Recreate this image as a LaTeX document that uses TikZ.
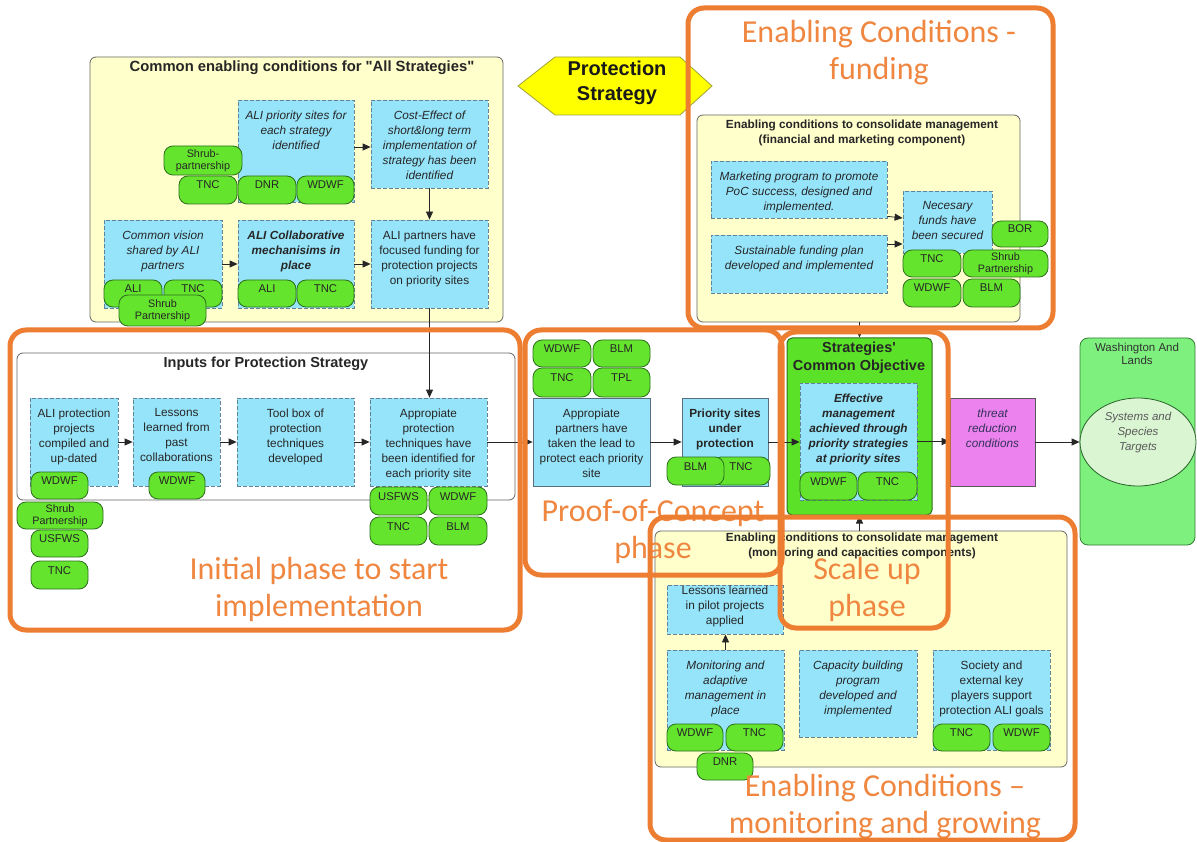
\documentclass[tikz,border=0pt]{standalone}
\usepackage{fontspec}
\setmainfont{Liberation Sans}[Ligatures=TeXOff]
\newfontfamily\calib{Carlito}
\usetikzlibrary{arrows.meta,shapes.geometric,calc}
\definecolor{orng}{RGB}{237,125,49}
\definecolor{orngtext}{RGB}{239,135,65}
\definecolor{yel}{RGB}{255,255,204}
\definecolor{boxblue}{RGB}{150,228,250}
\definecolor{dashcol}{RGB}{100,130,150}
\definecolor{solidcol}{RGB}{90,110,130}
\definecolor{pillgreen}{RGB}{100,228,45}
\definecolor{pillborder}{RGB}{45,110,30}
\definecolor{scogreen}{RGB}{90,225,40}
\definecolor{washgreen}{RGB}{125,240,125}
\definecolor{tgtfill}{RGB}{218,245,210}
\definecolor{tgtborder}{RGB}{40,100,40}
\definecolor{violetbox}{RGB}{236,130,238}
\definecolor{threattext}{RGB}{50,50,90}
\definecolor{hexyel}{RGB}{255,255,0}
\definecolor{hexborder}{RGB}{160,160,60}
\newcommand\bx[7][]{\node[#1,minimum width={(#5)-(#3)},minimum height={(#6)-(#4)}] (#2) at ({((#3)+(#5))/2},{((#4)+(#6))/2}) {#7};}
\newcommand\tb[8][]{\bx[#1]{#2}{#3}{#4}{#5}{#6}{}\node[btxt,#7] (#2t) at ([yshift=-11pt]#2.north) {#8};}
\begin{document}
\begin{tikzpicture}[x=1pt,y=-1pt,
  arr/.style={draw=black!85,line width=0.8pt,-{Triangle[length=8pt,width=7pt]}},
  fit/.style={font=\fontsize{11.8}{15}\selectfont\itshape},
  fup/.style={font=\fontsize{11.8}{15}\selectfont},
  fbi/.style={font=\fontsize{11.8}{15}\selectfont\bfseries\itshape},
  fbu/.style={font=\fontsize{11.8}{15}\selectfont\bfseries},
  btxt/.style={anchor=north,inner sep=0pt,align=center,text=black!85},
  subtitle/.style={font=\fontsize{11.8}{15}\selectfont\bfseries,align=center,text=black!85},
  ybox/.style={draw=gray!80!black,fill=yel,rounded corners=6pt,line width=0.8pt,inner sep=0pt},
  wbox/.style={draw=gray!80!black,fill=white,rounded corners=6pt,line width=0.8pt,inner sep=0pt},
  scobox/.style={draw=pillborder,fill=scogreen,rounded corners=5pt,line width=1pt,inner sep=0pt},
  washbox/.style={draw=gray!60!green!70!black,fill=washgreen,rounded corners=8pt,line width=0.8pt,inner sep=0pt},
  violetb/.style={draw=gray!70!black,fill=violetbox,inner sep=0pt,line width=0.6pt},
  bluebox/.style={draw=dashcol,dash pattern=on 4pt off 2pt,fill=boxblue,inner sep=0pt,line width=0.8pt},
  bluesolid/.style={draw=solidcol,fill=boxblue,inner sep=0pt,line width=0.8pt},
  pill/.style={draw=pillborder,fill=pillgreen,rounded corners=9pt,inner sep=0pt,line width=0.8pt,font=\fontsize{11.3}{13}\selectfont,text height=8pt,text depth=10pt,text=black!85},
  pilltwo/.style={draw=pillborder,fill=pillgreen,rounded corners=9pt,inner sep=0pt,line width=0.8pt,align=center,font=\fontsize{10.8}{12.5}\selectfont,text=black!85},
  oframe/.style={draw=orng,line width=5pt,rounded corners=16pt,inner sep=0pt},
  ftitle/.style={text=orngtext,align=center,font=\calib\fontsize{32}{37}\selectfont}
]
\useasboundingbox (0,0) rectangle (1197,842);
\fill[white] (0,0) rectangle (1197,842);

% ---------- containers ----------
\bx[ybox]{Y1}{90}{57}{503}{322}{}
\node[font=\fontsize{14.8}{15}\selectfont\bfseries,text=black!85] (Y1t) at (302,68) {Common enabling conditions for "All Strategies"};
\bx[ybox]{Y2}{697}{115}{1020}{322}{}
\node[subtitle] (Y2t) at (862,133) {Enabling conditions to consolidate management\\(financial and marketing component)};
\bx[wbox]{Y3}{17}{353}{515}{500}{}
\node[font=\fontsize{14.5}{15}\selectfont\bfseries,text=black!85] (Y3t) at (266,364) {Inputs for Protection Strategy};
\bx[ybox]{Y4}{655}{531}{1067}{767}{}
\node[subtitle] (Y4t) at (862,546) {Enabling conditions to consolidate management\\(monitoring and capacities components)};
\bx[scobox]{sco}{787}{338}{932}{515}{}
\node[font=\fontsize{14.5}{18}\selectfont\bfseries,align=center,text=black!85] (scot) at (859,358) {Strategies'\\Common Objective};
\bx[washbox]{wash}{1080}{338}{1195}{545}{}
\node[font=\fontsize{11.5}{13}\selectfont,align=center,text=black!80] (washt) at (1137,354) {Washington And\\Lands};
\node[ellipse,draw=tgtborder,fill=tgtfill,line width=0.8pt,minimum width=116pt,minimum height=88pt,inner sep=0pt] (tgt) at (1138,442) {};
\node[font=\fontsize{11.5}{15}\selectfont\itshape,align=center,text=black!65] (tgtt) at ([yshift=9pt]tgt.center) {Systems and\\Species\\Targets};

% Protection Strategy arrow
\path[draw=hexborder,fill=hexyel,line width=0.8pt] (518,86) -- (555,57) -- (680,57) -- (712,86) -- (680,115) -- (555,115) -- cycle;
\node[font=\fontsize{20}{25}\selectfont\bfseries,align=center,text=black!90] (hext) at (617,83) {Protection\\Strategy};

% ---------- common enabling conditions ----------
\tb[bluebox]{balisites}{238}{100}{354}{202}{fit}{ALI priority sites for\\each strategy\\identified}
\tb[bluebox]{bcost}{371}{100}{488}{188}{fit}{Cost-Effect of\\short\&long term\\implementation of\\strategy has been\\identified}
\tb[bluebox]{bvision}{104}{220}{222}{308}{fit}{Common vision\\shared by ALI\\partners}
\tb[bluebox]{bcollab}{238}{220}{354}{308}{fbi}{ALI Collaborative\\mechanisims in\\place}
\tb[bluebox]{bfund}{371}{220}{488}{308}{fup}{ALI partners have\\focused funding for\\protection projects\\on priority sites}
\bx[pilltwo]{p1}{164}{146}{242}{175}{Shrub-\\partnership}
\bx[pill]{p2}{179}{176}{237}{204}{TNC}
\bx[pill]{p3}{238}{176}{296}{204}{DNR}
\bx[pill]{p4}{297}{176}{354}{204}{WDWF}
\bx[pill]{p5}{104}{280}{162}{307}{ALI}
\bx[pill]{p6}{164}{280}{222}{307}{TNC}
\bx[pilltwo]{p7}{119}{295}{206}{326}{Shrub\\Partnership}
\bx[pill]{p8}{238}{280}{296}{307}{ALI}
\bx[pill]{p9}{297}{280}{354}{307}{TNC}

% ---------- funding ----------
\tb[bluebox]{bmark}{711}{161}{887}{218}{fit}{Marketing program to promote\\PoC success, designed and\\implemented.}
\tb[bluebox]{bsust}{711}{235}{887}{293}{fit}{Sustainable funding plan\\developed and implemented}
\tb[bluebox]{bfunds}{903}{191}{992}{253}{fit}{Necesary\\funds have\\been secured}
\bx[pill]{p10}{992}{221}{1048}{247}{BOR}
\bx[pill]{p11}{903}{250}{961}{277}{TNC}
\bx[pilltwo]{p12}{963}{250}{1048}{277}{Shrub\\Partnership}
\bx[pill]{p13}{903}{279}{961}{307}{WDWF}
\bx[pill]{p14}{963}{279}{1020}{307}{BLM}

% ---------- inputs ----------
\tb[bluebox]{i1}{30}{398}{118}{486}{fup}{ALI protection\\projects\\compiled and\\up-dated}
\tb[bluebox]{i2}{133}{398}{220}{486}{fup}{Lessons\\learned from\\past\\collaborations}
\tb[bluebox]{i3}{237}{398}{354}{486}{fup}{Tool box of\\protection\\techniques\\developed}
\tb[bluebox]{i4}{370}{398}{487}{486}{fup}{Appropiate\\protection\\techniques have\\been identified for\\each priority site}
\bx[pill]{p15}{31}{472}{88}{499}{WDWF}
\bx[pilltwo]{p16}{17}{502}{103}{529}{Shrub\\Partnership}
\bx[pill]{p17}{31}{530}{88}{557}{USFWS}
\bx[pill]{p18}{31}{561}{88}{589}{TNC}
\bx[pill]{p19}{149}{472}{205}{499}{WDWF}
\bx[pill]{p20}{370}{487}{427}{515}{USFWS}
\bx[pill]{p21}{429}{487}{487}{515}{WDWF}
\bx[pill]{p22}{370}{517}{427}{545}{TNC}
\bx[pill]{p23}{429}{517}{487}{545}{BLM}

% ---------- proof of concept ----------
\bx[pill]{p24}{533}{340}{591}{367}{WDWF}
\bx[pill]{p25}{593}{340}{650}{367}{BLM}
\bx[pill]{p26}{533}{368}{591}{397}{TNC}
\bx[pill]{p27}{593}{368}{650}{397}{TPL}
\tb[bluesolid]{poc1}{533}{398}{650}{486}{fup}{Appropiate\\partners have\\taken the lead to\\protect each priority\\site}
\tb[bluesolid]{poc2}{682}{398}{768}{486}{fbu}{Priority sites\\under\\protection}
\bx[pill]{p28}{712}{457}{770}{485}{TNC}
\bx[pill]{p29}{667}{457}{724}{485}{BLM}

% ---------- common objective ----------
\tb[bluebox]{eff}{800}{383}{917}{500}{fbi}{Effective\\management\\achieved through\\priority strategies\\at priority sites}
\bx[pill]{p30}{800}{472}{857}{500}{WDWF}
\bx[pill]{p31}{858}{472}{917}{500}{TNC}
\tb[violetb]{thr}{950}{398}{1035}{486}{fit,text=threattext}{threat\\reduction\\conditions}

% ---------- monitoring ----------
\bx[bluebox]{l1}{667}{585}{783}{634}{}
\node[btxt,fup,anchor=center] (l1t) at ([yshift=3pt]l1.center) {Lessons learned\\in pilot projects\\applied};
\tb[bluebox]{m1}{667}{650}{784}{750}{fit}{Monitoring and\\adaptive\\management in\\place}
\tb[bluebox]{c1}{799}{650}{917}{737}{fit}{Capacity building\\program\\developed and\\implemented}
\tb[bluebox]{s1}{933}{650}{1050}{750}{fup}{Society and\\external key\\players support\\protection ALI goals}
\bx[pill]{p32}{667}{724}{723}{751}{WDWF}
\bx[pill]{p33}{726}{724}{783}{751}{TNC}
\bx[pill]{p34}{697}{753}{753}{780}{DNR}
\bx[pill]{p35}{933}{724}{990}{751}{TNC}
\bx[pill]{p36}{993}{724}{1050}{751}{WDWF}

% ---------- connectors ----------
\coordinate (a1) at ([yshift=4pt]balisites.east);
\draw[arr] (a1) -- (a1 -| bcost.west);
\draw[arr] (bcost.south) -- (bcost.south |- bfund.north);
\draw[arr] (bvision.east) -- (bcollab.west);
\draw[arr] (bcollab.east) -- (bfund.west);
\draw[arr] (bfund.south) -- (bfund.south |- i4.north);
\draw[arr] (i1.east) -- (i2.west);
\draw[arr] (i2.east) -- (i3.west);
\draw[arr] (i3.east) -- (i4.west);
\draw[arr] (i4.east) -- (poc1.west);
\draw[arr] (poc1.east) -- (poc2.west);
\draw[arr] (poc2.east) -- (poc2.east -| eff.west);
\draw[arr] (eff.east) -- (eff.east -| thr.west);
\draw[arr] (thr.east) -- (tgt.west);
\draw[arr] ([yshift=2pt]bmark.south east) -- ([yshift=4pt]bfunds.west);
\coordinate (a2) at ([yshift=20pt]bsust.east);
\draw[arr] (a2) -- (a2 -| bfunds.west);
\draw[arr] (sco.north |- Y2.south) -- (sco.north);
\draw[arr] (sco.south |- Y4.north) -- (sco.south);
\draw[arr] (m1.north) -- (m1.north |- l1.south);

% ---------- orange phase frames ----------
\node[ftitle] (F1t) at (879,53) {Enabling Conditions -\\funding};
\node[ftitle] (F2t) at (319,589) {Initial phase to start\\implementation};
\node[ftitle] (F3t) at (653,532) {Proof-of-Concept\\phase};
\node[ftitle] (F4t) at (867,589) {Scale up\\phase};
\node[ftitle] (F5t) at (885,807) {Enabling Conditions –\\monitoring and growing};
\bx[oframe]{F1}{688}{8}{1053}{328}{}
\bx[oframe]{F2}{10}{330}{520}{630}{}
\bx[oframe]{F3}{525}{330}{782}{575}{}
\bx[oframe]{F4}{780}{332}{948}{628}{}
\bx[oframe]{F5}{650}{517}{1075}{840}{}
\end{tikzpicture}
\end{document}
